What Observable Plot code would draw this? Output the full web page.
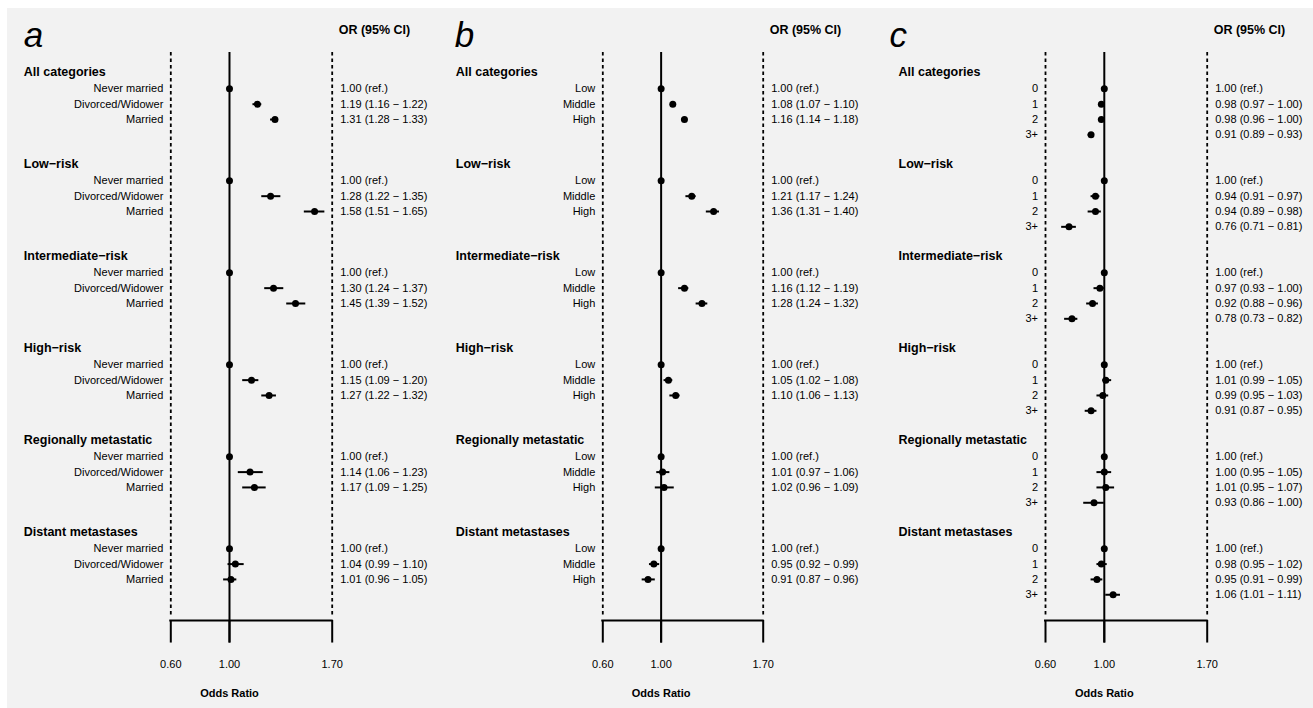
<!DOCTYPE html>
<html><head><meta charset="utf-8">
<script src="https://cdn.jsdelivr.net/npm/d3@7"></script>
<script src="https://cdn.jsdelivr.net/npm/@observablehq/plot@0.6"></script>
<style>
body{margin:0;background:#fff;}
#wrap{position:relative;width:1313px;height:708px;overflow:hidden;}
#bg{position:absolute;left:7px;top:8px;width:1306px;height:700px;background:#f2f2f2;}
.panel{position:absolute;top:0;}
.panel svg{overflow:visible;}
</style></head><body>
<div id="wrap"><div id="bg"></div></div>
<script>
// ---- data ----
const groups = ["All categories", "Low\u2212risk", "Intermediate\u2212risk", "High\u2212risk", "Regionally metastatic", "Distant metastases"];

const catsA = ["Never married", "Divorced/Widower", "Married"];
const orA = [[1.00,1.19,1.31],[1.00,1.28,1.58],[1.00,1.30,1.45],[1.00,1.15,1.27],[1.00,1.14,1.17],[1.00,1.04,1.01]];
const loA = [[null,1.16,1.28],[null,1.22,1.51],[null,1.24,1.39],[null,1.09,1.22],[null,1.06,1.09],[null,0.99,0.96]];
const hiA = [[null,1.22,1.33],[null,1.35,1.65],[null,1.37,1.52],[null,1.20,1.32],[null,1.23,1.25],[null,1.10,1.05]];

const catsB = ["Low", "Middle", "High"];
const orB = [[1.00,1.08,1.16],[1.00,1.21,1.36],[1.00,1.16,1.28],[1.00,1.05,1.10],[1.00,1.01,1.02],[1.00,0.95,0.91]];
const loB = [[null,1.07,1.14],[null,1.17,1.31],[null,1.12,1.24],[null,1.02,1.06],[null,0.97,0.96],[null,0.92,0.87]];
const hiB = [[null,1.10,1.18],[null,1.24,1.40],[null,1.19,1.32],[null,1.08,1.13],[null,1.06,1.09],[null,0.99,0.96]];

const catsC = ["0", "1", "2", "3+"];
const orC = [[1.00,0.98,0.98,0.91],[1.00,0.94,0.94,0.76],[1.00,0.97,0.92,0.78],[1.00,1.01,0.99,0.91],[1.00,1.00,1.01,0.93],[1.00,0.98,0.95,1.06]];
const loC = [[null,0.97,0.96,0.89],[null,0.91,0.89,0.71],[null,0.93,0.88,0.73],[null,0.99,0.95,0.87],[null,0.95,0.95,0.86],[null,0.95,0.91,1.01]];
const hiC = [[null,1.00,1.00,0.93],[null,0.97,0.98,0.81],[null,1.00,0.96,0.82],[null,1.05,1.03,0.95],[null,1.05,1.07,1.00],[null,1.02,0.99,1.11]];

const xTicks = [0.6, 1.0, 1.7];
const xTickLabels = ["0.60", "1.00", "1.70"];
const refValue = 1.0;
const headerText = "OR (95% CI)";
const axisTitle = "Odds Ratio";

// ---- layout (row units) ----
const yTop = -1.27, yDashEnd = 35.55, yAxis = 35.78, yTickEnd = 37.25, yTickLabel = 38.63, yTitle = 40.55, yHeader = -2.72, yLetter = -2.35;
const FONT = "'Liberation Sans', Arial, Helvetica, sans-serif";
const fmt = d3.format(".2f");

function panel({letter, cats, or, lo, hi, left, width, x0, x1, letterDx}) {
  const rows = [];
  groups.forEach((g, gi) => cats.forEach((c, ci) => {
    const o = or[gi][ci], l = lo[gi][ci], h = hi[gi][ci];
    rows.push({group: g, cat: c, y: 6 * gi + 1.1 + ci, or: o, lo: l, hi: h,
      label: l == null ? `${fmt(o)} (ref.)` : `${fmt(o)} (${fmt(l)} \u2212 ${fmt(h)})`});
  }));
  const heads = groups.map((g, gi) => ({group: g, y: 6 * gi}));
  const ci = rows.filter(d => d.lo != null);
  const chart = Plot.plot({
    width, height: 708,
    style: {background: "transparent", fontFamily: FONT, color: "#000", overflow: "visible"},
    x: {domain: [0.6, 1.7], range: [x0, x1], axis: null},
    y: {domain: [0, 1], range: [71.5, 86.83], axis: null},
    marks: [
      Plot.ruleX([xTicks[0], xTicks[2]], {y1: yTop, y2: yDashEnd, stroke: "#000", strokeWidth: 1.8, strokeDasharray: "3.5,3"}),
      Plot.ruleX([refValue], {y1: yTop, y2: yTickEnd, stroke: "#000", strokeWidth: 2}),
      Plot.ruleY([yAxis], {x1: xTicks[0], x2: xTicks[2], stroke: "#000", strokeWidth: 2, strokeLinecap: "square"}),
      Plot.ruleX(xTicks, {y1: yAxis, y2: yTickEnd, stroke: "#000", strokeWidth: 2}),
      Plot.ruleY(ci, {y: "y", x1: "lo", x2: "hi", stroke: "#000", strokeWidth: 2}),
      Plot.dot(rows, {x: "or", y: "y", r: 3.5, fill: "#000", stroke: "none"}),
      Plot.text(rows, {x: xTicks[0], y: "y", text: "cat", dx: -7.5, textAnchor: "end", fontSize: 11, fill: "#000"}),
      Plot.text(heads, {x: xTicks[0], y: "y", text: "group", dx: -147, textAnchor: "start", fontSize: 12.5, fontWeight: "bold", fill: "#000"}),
      Plot.text(rows, {x: xTicks[2], y: "y", text: "label", dx: 8, textAnchor: "start", fontSize: 11, fill: "#000"}),
      Plot.text([headerText], {x: xTicks[2], y: yHeader, text: d => d, dx: 6.5, textAnchor: "start", fontSize: 12.5, fontWeight: "bold", fill: "#000"}),
      Plot.text([letter], {x: xTicks[0], y: yLetter, text: d => d, dx: letterDx, textAnchor: "start", fontSize: 35, fontStyle: "italic", fill: "#000"}),
      Plot.text(xTicks, {x: d => d, y: yTickLabel, text: (d, i) => xTickLabels[i], fontSize: 11, fill: "#000"}),
      Plot.text([axisTitle], {x: refValue, y: yTitle, text: d => d, fontSize: 11, fontWeight: "bold", fill: "#000"})
    ]
  });
  const div = document.createElement("div");
  div.className = "panel";
  div.style.left = left + "px";
  div.appendChild(chart);
  document.getElementById("wrap").appendChild(div);
}

panel({letter: "a", cats: catsA, or: orA, lo: loA, hi: hiA, left: 0, width: 437, x0: 170.3, x1: 331.7, letterDx: -147});
panel({letter: "b", cats: catsB, or: orB, lo: loB, hi: hiB, left: 437, width: 438, x0: 165.3, x1: 325.7, letterDx: -148});
panel({letter: "c", cats: catsC, or: orC, lo: loC, hi: hiC, left: 875, width: 438, x0: 170, x1: 331.7, letterDx: -156});
</script>
</body></html>
